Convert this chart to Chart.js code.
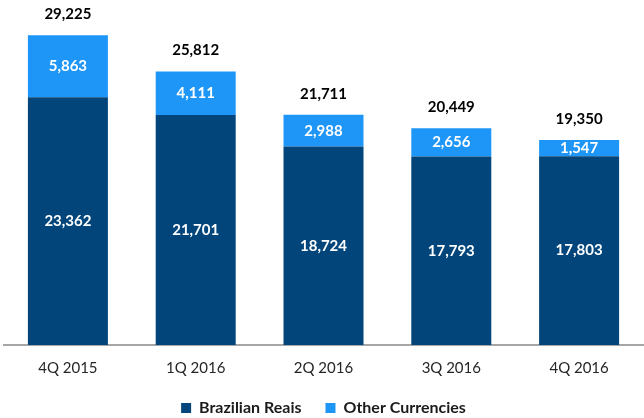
<!DOCTYPE html>
<html lang="en">
<head>
  <meta charset="UTF-8" />
  <title>Funding by Currency</title>
  <script src="https://cdn.jsdelivr.net/npm/chart.js"></script>
  <style>
    html, body { margin: 0; padding: 0; background: #fff; }
    #wrap { width: 644px; height: 418px; }
  </style>
</head>
<body>
  <div id="wrap"><canvas id="chart"></canvas></div>

  <script>
    const quarters = ['4Q 2015', '1Q 2016', '2Q 2016', '3Q 2016', '4Q 2016'];
    const brazilianReais = [23362, 21701, 18724, 17793, 17803];
    const otherCurrencies = [5863, 4111, 2988, 2656, 1547];
    const totals = [29225, 25812, 21711, 20449, 19350];

    const fmt = v => v.toLocaleString('en-US');
    const FONT = 'Lato, "Open Sans", sans-serif';

    // values inside segments + totals above each bar
    const labelPlugin = {
      id: 'barLabels',
      afterInit(chart) {
        // keep the legend short so the plot can run down to ~345px
        const lg = chart.legend;
        const fit = lg.fit.bind(lg);
        lg.fit = function () { fit(); this.height = 42; };
      },
      afterDatasetsDraw(chart) {
        const ctx = chart.ctx;
        ctx.save();
        ctx.textAlign = 'center';
        ctx.textBaseline = 'middle';
        ctx.font = 'bold 15px ' + FONT;
        ctx.fillStyle = '#ffffff';
        chart.data.datasets.forEach((ds, i) => {
          chart.getDatasetMeta(i).data.forEach((bar, j) => {
            const mid = (bar.y + bar.base) / 2;
            ctx.fillText(fmt(ds.data[j]), bar.x, mid);
          });
        });
        ctx.fillStyle = '#000000';
        const top = chart.getDatasetMeta(1).data;
        top.forEach((bar, j) => {
          ctx.fillText(fmt(totals[j]), bar.x, bar.y - 21);
        });
        ctx.restore();
      }
    };

    new Chart(document.getElementById('chart'), {
      type: 'bar',
      data: {
        labels: quarters,
        datasets: [
          { label: 'Brazilian Reais', data: brazilianReais, backgroundColor: '#02457b' },
          { label: 'Other Currencies', data: otherCurrencies, backgroundColor: '#1e96f8' }
        ]
      },
      options: {
        responsive: true,
        maintainAspectRatio: false,
        animation: false,
        categoryPercentage: 1,
        barPercentage: 0.626,
        layout: { padding: { top: 27, left: 4, right: 1, bottom: 0 } },
        plugins: {
          tooltip: { enabled: false },
          legend: {
            position: 'bottom',
            labels: {
              boxWidth: 10,
              boxHeight: 10,
              padding: 24,
              color: '#1a1a1a',
              font: { family: FONT, size: 16, weight: 'bold' }
            }
          }
        },
        scales: {
          x: {
            stacked: true,
            grid: { display: false },
            border: { display: true, color: '#a6a6a6', width: 2 },
            ticks: { color: '#262626', padding: 6, font: { family: FONT, size: 15 } },
            afterFit(scale) { scale.height = 31; }
          },
          y: {
            stacked: true,
            display: false,
            min: 0,
            max: 30000
          }
        }
      },
      plugins: [labelPlugin]
    });
  </script>
</body>
</html>
